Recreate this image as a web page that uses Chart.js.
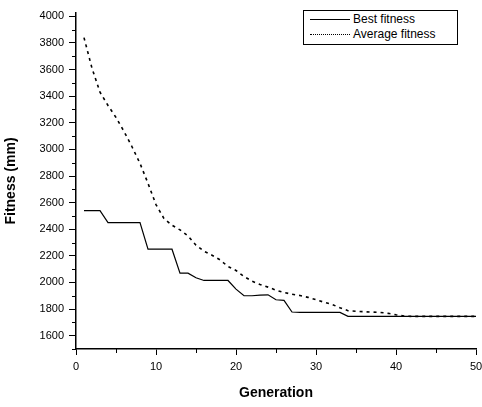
<!DOCTYPE html>
<html>
<head>
<style>
  body { margin: 0; background: #fff; }
  #wrap { position: relative; width: 482px; height: 407px; }
  #legend {
    position: absolute; left: 303px; top: 10px; width: 153px;
    border: 1px solid #000; background: #fff;
    font: 12px "Liberation Sans", Arial, sans-serif; color: #000;
    padding: 1px 0 2px 0;
  }
  #legend div { height: 15px; line-height: 15px; white-space: nowrap; }
  #legend span.s { display: inline-block; width: 40px; margin: 0 3px 0 6px; vertical-align: middle; }
  #legend .solid { border-top: 1px solid #000; }
  #legend .dot { border-top: 1px dotted #000; }
</style>
</head>
<body>
<div id="wrap">
  <canvas id="chartFitness" width="482" height="407"></canvas>
  <div id="legend">
    <div><span class="s solid"></span>Best fitness</div>
    <div><span class="s dot"></span>Average fitness</div>
  </div>
</div>
<script src="https://cdn.jsdelivr.net/npm/chart.js@4"></script>
<script>
const generations = [];
for (let g = 1; g <= 50; g++) generations.push(g);

const bestFitness = [
  2540, 2540, 2540, 2450, 2450, 2450, 2450, 2450, 2250, 2250,
  2250, 2250, 2070, 2070, 2035, 2015, 2015, 2015, 2015, 1950,
  1900, 1900, 1905, 1907, 1870, 1865, 1778, 1775, 1775, 1775,
  1775, 1775, 1775, 1745, 1745, 1745, 1745, 1745, 1745, 1745,
  1745, 1745, 1745, 1745, 1745, 1745, 1745, 1745, 1745, 1745
];

const averageFitness = [
  3840, 3610, 3430, 3330, 3240, 3135, 3020, 2895, 2745, 2585,
  2480, 2430, 2395, 2350, 2280, 2235, 2205, 2170, 2120, 2090,
  2045, 2010, 1985, 1965, 1942, 1925, 1912, 1902, 1888, 1870,
  1852, 1835, 1810, 1788, 1783, 1780, 1778, 1775, 1768, 1757,
  1748, 1745, 1745, 1745, 1745, 1745, 1745, 1745, 1745, 1745
];

const xTicks = [0, 10, 20, 30, 40, 50];
const yTicks = [1600, 1800, 2000, 2200, 2400, 2600, 2800, 3000, 3200, 3400, 3600, 3800, 4000];

const tickFont = { family: '"Liberation Sans", Arial, sans-serif', size: 11 };
const titleFont = { family: '"Liberation Sans", Arial, sans-serif', size: 14, weight: 'bold' };

// short minor tick marks (every 5 on x, every 100 on y)
const minorTicks = {
  id: 'minorTicks',
  afterDraw(chart) {
    const ctx = chart.ctx, x = chart.scales.x, y = chart.scales.y;
    ctx.save();
    ctx.strokeStyle = '#000';
    ctx.lineWidth = 1;
    ctx.beginPath();
    for (let v = 5; v < 50; v += 10) {
      const px = Math.round(x.getPixelForValue(v)) + 0.5;
      ctx.moveTo(px, y.bottom); ctx.lineTo(px, y.bottom + 4);
    }
    for (let v = 1500; v <= 4000; v += 200) {
      const py = Math.round(y.getPixelForValue(v)) + 0.5;
      ctx.moveTo(x.left - 4, py); ctx.lineTo(x.left, py);
    }
    ctx.stroke();
    ctx.restore();
  }
};

new Chart(document.getElementById('chartFitness').getContext('2d'), {
  type: 'line',
  data: {
    datasets: [{
      label: 'Best fitness',
      data: generations.map((g, i) => ({ x: g, y: bestFitness[i] })),
      borderColor: '#000',
      borderWidth: 1.2,
      pointRadius: 0,
      tension: 0
    }, {
      label: 'Average fitness',
      data: generations.map((g, i) => ({ x: g, y: averageFitness[i] })),
      borderColor: '#000',
      borderWidth: 1.6,
      borderDash: [3, 4],
      pointRadius: 0,
      tension: 0
    }]
  },
  options: {
    responsive: false,
    animation: false,
    layout: { padding: { left: 0, right: 6, top: 13, bottom: 0 } },
    plugins: { legend: { display: false }, tooltip: { enabled: false } },
    scales: {
      x: {
        type: 'linear', min: 0, max: 50,
        afterBuildTicks: s => { s.ticks = xTicks.map(v => ({ value: v })); },
        afterFit: s => { s.height = 58; s.paddingLeft = 0; s.paddingRight = 0; },
        grid: { drawOnChartArea: false, drawTicks: true, tickLength: 6, tickColor: '#000', tickWidth: 1 },
        border: { display: true, color: '#000', width: 1.5 },
        ticks: { color: '#000', font: tickFont, padding: 5, maxRotation: 0, callback: v => String(v) },
        title: { display: true, text: 'Generation', color: '#000', font: titleFont, padding: { top: 0, bottom: 5 } }
      },
      y: {
        type: 'linear', min: 1500, max: 4025,
        afterBuildTicks: s => { s.ticks = yTicks.map(v => ({ value: v })); },
        afterFit: s => { s.width = 76; s.paddingTop = 0; s.paddingBottom = 0; },
        grid: { drawOnChartArea: false, drawTicks: true, tickLength: 7, tickColor: '#000', tickWidth: 1 },
        border: { display: true, color: '#000', width: 1.5 },
        ticks: { color: '#000', font: tickFont, padding: 5, callback: v => String(v) },
        title: { display: true, text: 'Fitness (mm)', color: '#000', font: titleFont, padding: { top: 3, bottom: 0 } }
      }
    }
  },
  plugins: [minorTicks]
});
</script>
</body>
</html>
